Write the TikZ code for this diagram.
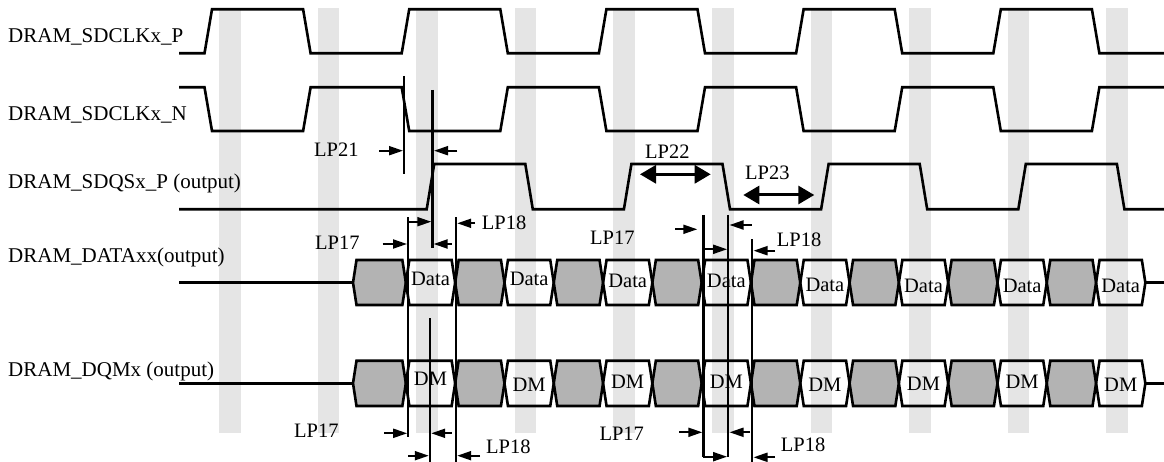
\documentclass[tikz,border=0pt]{standalone}
\usepackage{fontspec}
\setmainfont{Liberation Serif}
\usetikzlibrary{arrows.meta}
\definecolor{stripe}{RGB}{229,229,229}
\definecolor{cellgray}{RGB}{179,179,179}
\begin{document}
\begin{tikzpicture}[x=1pt,y=-1pt,
  sig/.style={line width=2.6pt},
  bus/.style={line width=2.6pt, line join=miter},
  markline/.style={line width=2.2pt},
  dimarrow/.style={line width=2pt, -{Triangle[length=14pt,width=9pt]}},
  bigarrow/.style={line width=3pt, {Triangle[length=16pt,width=18pt]}-{Triangle[length=16pt,width=18pt]}},
  lbl/.style={inner sep=0pt, anchor=base west, font=\fontsize{21}{25}\selectfont},
  lp/.style={inner sep=0pt, anchor=base west, font=\fontsize{20.5}{24}\selectfont},
  celltxt/.style={inner sep=0pt, anchor=base, font=\fontsize{20.5}{24}\selectfont},
]
\useasboundingbox (0,0) rectangle (1164,462);

% background stripes
\foreach \k in {0,...,9}
  \fill[stripe] ({219+98.6*\k},8) rectangle ({240.5+98.6*\k},433.3);

% clocks
\draw[sig] (179,53.3) -- (204.5,53.3) -- (212,9.3) -- (303.1,9.3) -- (310.6,53.3) -- (401.7,53.3) -- (409.2,9.3) -- (500.3,9.3) -- (507.8,53.3) -- (598.9,53.3) -- (606.4,9.3) -- (697.5,9.3) -- (705,53.3) -- (796.1,53.3) -- (803.6,9.3) -- (894.7,9.3) -- (902.2,53.3) -- (993.3,53.3) -- (1000.8,9.3) -- (1091.9,9.3) -- (1099.4,53.3) -- (1164,53.3);
\draw[sig] (179,87.3) -- (204.5,87.3) -- (212,131) -- (303.1,131) -- (310.6,87.3) -- (401.7,87.3) -- (409.2,131) -- (500.3,131) -- (507.8,87.3) -- (598.9,87.3) -- (606.4,131) -- (697.5,131) -- (705,87.3) -- (796.1,87.3) -- (803.6,131) -- (894.7,131) -- (902.2,87.3) -- (993.3,87.3) -- (1000.8,131) -- (1091.9,131) -- (1099.4,87.3) -- (1164,87.3);
% DQS
\draw[sig] (179,209.3) -- (426.7,209.3) -- (434.2,164) -- (525.3,164) -- (532.8,209.3) -- (623.9,209.3) -- (631.4,164) -- (722.5,164) -- (730,209.3) -- (821.1,209.3) -- (828.6,164) -- (919.7,164) -- (927.2,209.3) -- (1018.3,209.3) -- (1025.8,164) -- (1116.9,164) -- (1124.4,209.3) -- (1164,209.3);

% buses
\draw[bus] (179,282.7) -- (353,282.7);
\draw[bus] (179,383.3) -- (353,383.3);
\draw[bus] (1145.35,282.7) -- (1164,282.7);
\draw[bus] (1145.35,383.3) -- (1164,383.3);
\foreach \i in {0,2,...,14} {
  \pgfmathsetmacro{\xl}{\i==0 ? 353 : 405.85+49.3*(\i-1)}
  \pgfmathsetmacro{\xr}{405.85+49.3*\i}
  \draw[bus, fill=cellgray] (\xl,282.7) -- (\xl+3.5,260) -- (\xr-3.5,260) -- (\xr,282.7) -- (\xr-3.5,305) -- (\xl+3.5,305) -- cycle;
  \draw[bus, fill=cellgray] (\xl,383.3) -- (\xl+3.5,360.7) -- (\xr-3.5,360.7) -- (\xr,383.3) -- (\xr-3.5,406) -- (\xl+3.5,406) -- cycle;
}
\foreach \i in {1,3,...,15} {
  \pgfmathsetmacro{\xl}{405.85+49.3*(\i-1)}
  \pgfmathsetmacro{\xr}{405.85+49.3*\i}
  \draw[bus] (\xl,282.7) -- (\xl+3.5,260) -- (\xr-3.5,260) -- (\xr,282.7) -- (\xr-3.5,305) -- (\xl+3.5,305) -- cycle;
  \draw[bus] (\xl,383.3) -- (\xl+3.5,360.7) -- (\xr-3.5,360.7) -- (\xr,383.3) -- (\xr-3.5,406) -- (\xl+3.5,406) -- cycle;
}
\foreach \m/\bd/\bm in {0/286/385, 1/286/391.7, 2/287.3/388.3, 3/287.3/388.3, 4/291.7/391.7, 5/292.3/390.7, 6/292.3/388.3, 7/292.3/391.7} {
  \node[celltxt] (d\m) at ({430.5+98.6*\m},\bd) {Data};
  \node[celltxt] (q\m) at ({430.5+98.6*\m},\bm) {DM};
}

% marker lines
\draw[markline] (404.3,76) -- (404.3,174.3);
\draw[markline] (432.5,90) -- (432.5,248);
\draw[markline] (430,318) -- (430,462);
\draw[markline] (408.3,217.3) -- (408.3,436.7);
\draw[markline] (456,217.3) -- (456,462);
\draw[markline] (703.5,215) -- (703.5,456.7);
\draw[markline] (728.3,215) -- (728.3,456.7);
\draw[markline] (752.3,239.3) -- (752.3,462);

% small dimension arrows
\draw[dimarrow] (379.3,150.7) -- (403,150.7);
\draw[dimarrow] (457.3,150.7) -- (434,150.7);
\draw[dimarrow] (382.7,244) -- (407,244);
\draw[dimarrow] (409,221.7) -- (431.3,221.7);
\draw[dimarrow] (451.7,244) -- (433.6,244);
\draw[dimarrow] (475,223.3) -- (457.2,223.3);
\draw[dimarrow] (384.3,433.3) -- (407.2,433.3);
\draw[dimarrow] (451.7,433.3) -- (431.2,433.3);
\draw[dimarrow] (408.3,455.7) -- (428.8,455.7);
\draw[dimarrow] (480,455.7) -- (457.2,455.7);
\draw[dimarrow] (675,229.3) -- (697.3,229.3);
\draw[dimarrow] (751.7,225) -- (729.5,225);
\draw[dimarrow] (703.5,249.3) -- (727.1,249.3);
\draw[dimarrow] (775,250.7) -- (753.5,250.7);
\draw[dimarrow] (679.3,432.3) -- (702.3,432.3);
\draw[dimarrow] (750,432.3) -- (729.5,432.3);
\draw[dimarrow] (702.5,456.7) -- (727.1,456.7);
\draw[dimarrow] (775,457.3) -- (753.5,457.3);

% big arrows
\draw[bigarrow] (640,174.3) -- (710.7,174.3);
\draw[bigarrow] (743.3,195) -- (814.3,195);

% signal labels
\node[lbl] (lclkp) at (8,42.7) {DRAM\_SDCLKx\_P};
\node[lbl] (lclkn) at (8,121) {DRAM\_SDCLKx\_N};
\node[lbl] (ldqs) at (8,188.3) {DRAM\_SDQSx\_P (output)};
\node[lbl] (ldata) at (8,262.3) {DRAM\_DATAxx(output)};
\node[lbl] (ldqm) at (8,376) {DRAM\_DQMx (output)};

% timing labels
\node[lp] (t21) at (314,156.7) {LP21};
\node[lp] (t17a) at (315,250) {LP17};
\node[lp] (t18a) at (481.7,229.3) {LP18};
\node[lp] (t17b) at (294,437.7) {LP17};
\node[lp] (t18b) at (486,453.7) {LP18};
\node[lp] (t22) at (645,158.3) {LP22};
\node[lp] (t23) at (745,180) {LP23};
\node[lp] (t17c) at (590,245) {LP17};
\node[lp] (t18c) at (776.7,246.7) {LP18};
\node[lp] (t17d) at (599.3,440) {LP17};
\node[lp] (t18d) at (780.7,451.7) {LP18};
\end{tikzpicture}
\end{document}
